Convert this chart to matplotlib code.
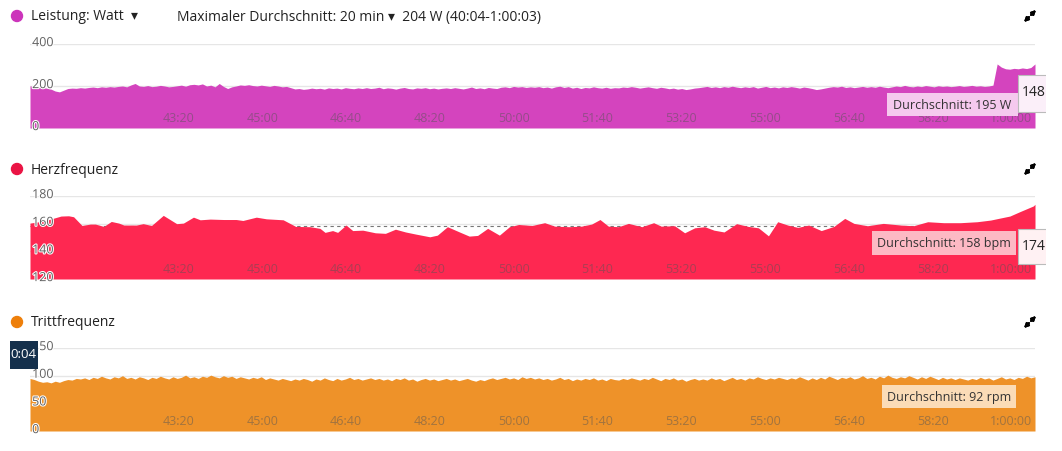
import numpy as np
import matplotlib
matplotlib.use("Agg")
import matplotlib.pyplot as plt
from matplotlib.patches import Rectangle, Ellipse
import matplotlib.patheffects as pe

W, H = 1062, 452
plt.rcParams['font.family'] = ['Open Sans', 'DejaVu Sans']

# Zeitachse (Sekunden), sichtbarer Bereich 40:04 - 1:00:03
t_start, t_end = 2404, 3603
tick_secs = [2600, 2700, 2800, 2900, 3000, 3100, 3200, 3300, 3400, 3500, 3600]
tick_labels = ["43:20", "45:00", "46:40", "48:20", "50:00", "51:40",
               "53:20", "55:00", "56:40", "58:20", "1:00:00"]

# Leistung (W), 5-s Raster
power_w = [
    200, 198, 196, 192, 190, 185, 176, 172, 180, 188, 190, 189, 192, 190, 193, 195, 192, 196, 194, 197,
    195, 198, 200, 196, 205, 212, 200, 198, 202, 197, 199, 203, 200, 196, 198, 201, 204, 199, 206, 208,
    205, 210, 200, 204, 196, 212, 198, 188, 196, 200, 205, 203, 206, 202, 200, 204, 201, 198, 203, 200,
    196, 198, 192, 186, 188, 184, 186, 190, 187, 189, 185, 191, 188, 190, 186, 192, 189, 187, 191, 188,
    192, 188, 190, 194, 187, 191, 189, 185, 190, 193, 188, 186, 191, 189, 192, 187, 190, 186, 189, 191,
    188, 192, 189, 186, 190, 195, 188, 191, 187, 193, 190, 188, 194, 196, 192, 198, 195, 197, 193, 196,
    194, 197, 192, 195, 190, 196, 199, 193, 197, 190, 194, 188, 193, 191, 196, 192, 190, 194, 189, 192,
    191, 195, 193, 197, 194, 190, 193, 196, 192, 189, 194, 191, 187, 190, 185, 188, 183, 186, 190, 192,
    195, 198, 193, 196, 192, 197, 194, 199, 195, 192, 196, 193, 197, 190, 194, 198, 192, 195, 191, 196,
    193, 197, 194, 190, 195, 192, 188, 183, 186, 190, 194, 197, 195, 199, 193, 196, 192, 195, 198, 194,
    197, 194, 199, 195, 192, 196, 200, 197, 203, 198, 196, 200, 197, 202, 199, 196, 201, 198, 200, 197,
    199, 202, 198, 200, 203, 199, 201, 198, 200, 204, 305, 290, 282, 280, 284, 282, 286, 283, 288, 305,
]

# Herzfrequenz (bpm)
hr_t = [2404, 2421, 2441, 2450, 2456, 2466, 2476, 2482, 2492, 2501, 2510, 2516, 2531, 2539, 2549,
        2563, 2579, 2587, 2599, 2607, 2619, 2635, 2650, 2658, 2674, 2686, 2706, 2721, 2738, 2750,
        2756, 2765, 2771, 2781, 2789, 2801, 2816, 2828, 2840, 2852, 2864, 2881, 2890, 2902, 2916,
        2928, 2938, 2950, 2964, 2976, 2987, 3003, 3018, 3030, 3047, 3062, 3074, 3084, 3094, 3106,
        3118, 3134, 3148, 3157, 3173, 3185, 3197, 3209, 3220, 3232, 3247, 3261, 3273, 3285, 3296,
        3308, 3320, 3333, 3348, 3363, 3376, 3387, 3403, 3422, 3443, 3458, 3475, 3494, 3514, 3534,
        3550, 3561, 3573, 3585, 3601, 3603]
hr_bpm = [160.4, 162, 165.5, 165.7, 165, 158.7, 159.7, 159.7, 158, 161.6, 160.4, 159, 159, 160, 158.7,
          166, 160, 160.4, 164.7, 162.8, 163.3, 163, 163, 162.3, 164.7, 163.5, 162.8, 158, 157.8, 156.6,
          153.7, 155, 153.7, 159, 155, 155.3, 153.4, 153, 156, 154, 152.5, 150.5, 151.7, 157.8, 154.1,
          151, 151.5, 156.6, 151.7, 157.8, 159.4, 158.7, 160.7, 158.2, 157.8, 158.2, 159.7, 163, 158.2, 157.8,
          160.2, 157.8, 160.7, 158.2, 158.5, 153.4, 157, 157.8, 155.3, 154, 160, 158, 157, 151.2, 161.4,
          159, 157.3, 159, 155, 158, 163.8, 160.2, 158.5, 160.2, 159, 158.5, 161.4, 160.7, 160.7, 161.4,
          162.6, 164, 165.5, 168.7, 172.8, 174]

# Trittfrequenz (rpm), 5-s Raster
cad_rpm = [
    95, 93, 90, 88, 89, 87, 90, 88, 91, 93, 92, 95, 94, 96, 93, 97, 95, 99, 96, 94,
    98, 96, 100, 95, 97, 94, 98, 96, 93, 97, 95, 99, 96, 94, 98, 95, 97, 101, 96, 98,
    95, 99, 97, 101, 98, 96, 100, 97, 99, 95, 98, 96, 94, 97, 95, 98, 93, 96, 94, 92,
    95, 93, 91, 94, 92, 95, 93, 90, 94, 92, 96, 93, 91, 95, 92, 94, 97, 93, 95, 92,
    94, 96, 93, 95, 92, 94, 91, 95, 93, 96, 92, 94, 90, 93, 95, 92, 94, 91, 93, 95,
    92, 94, 91, 93, 95, 92, 90, 93, 91, 94, 96, 93, 95, 97, 94, 96, 93, 98, 95, 97,
    94, 96, 93, 95, 92, 94, 97, 93, 95, 91, 94, 92, 95, 93, 96, 92, 94, 91, 95, 93,
    92, 95, 93, 96, 94, 92, 95, 93, 97, 94, 91, 95, 93, 96, 92, 94, 90, 93, 95, 92,
    94, 92, 96, 93, 95, 91, 94, 97, 93, 95, 92, 96, 94, 98, 95, 93, 96, 94, 97, 95,
    93, 96, 94, 98, 95, 92, 96, 93, 97, 94, 99, 96, 93, 97, 95, 98, 94, 96, 100, 95,
    97, 94, 99, 96, 101, 97, 95, 98, 96, 100, 97, 94, 98, 95, 99, 96, 93, 97, 94, 96,
    93, 96, 94, 92, 95, 93, 97, 94, 96, 92, 95, 98, 94, 96, 93, 97, 95, 99, 96, 98,
]

power_t = np.linspace(t_start, t_end, len(power_w))
cad_t = np.linspace(t_start, t_end, len(cad_rpm))


def fx(x):
    return x / W


def fy(y):
    return 1 - y / H


fig = plt.figure(figsize=(W / 100, H / 100), dpi=100)


def panel(top, bottom, ylo, yhi, yticks):
    ax = fig.add_axes([fx(30), fy(bottom), (1035 - 30) / W, (bottom - top) / H])
    ax.set_xlim(t_start, t_end)
    ax.set_ylim(ylo, yhi)
    for s in ax.spines.values():
        s.set_visible(False)
    ax.set_xticks([])
    ax.set_yticks([])
    for v in yticks:
        ax.axhline(v, color='#e6e6e6', lw=1, zorder=0)
        ax.annotate(str(v), xy=(0, v), xycoords=('axes fraction', 'data'),
                    xytext=(1.5, 1), textcoords='offset points', ha='left', va='center',
                    fontsize=9, color='#606060', zorder=5,
                    path_effects=[pe.withStroke(linewidth=1.5, foreground='white')])
    for ts, lab in zip(tick_secs, tick_labels):
        ax.annotate(lab, xy=(ts, ylo), xycoords='data', xytext=(0, 7.5),
                    textcoords='offset points', ha='right', va='center',
                    fontsize=9, color='#555555', alpha=0.5, zorder=4)
    return ax


def arrow(x0, y0, x1, y1):
    fig.add_artist(plt.annotate('', xy=(fx(x1), fy(y1)), xytext=(fx(x0), fy(y0)),
                                xycoords='figure fraction', textcoords='figure fraction',
                                arrowprops=dict(arrowstyle='-|>', color='black', lw=1.4,
                                                mutation_scale=6, shrinkA=0, shrinkB=0)))


def header(y, label, dot_color):
    fig.add_artist(Ellipse((fx(17), fy(y)), 11 / W, 11 / H, transform=fig.transFigure,
                           color=dot_color))
    fig.text(fx(31), fy(y), label, fontsize=10, color='#222222', va='center', ha='left')
    # Vollbild-Symbol
    arrow(1031, y - 1, 1036, y - 6)
    arrow(1029, y + 1, 1024, y + 6)


def box(x0, y0, x1, y1, fc, ec='none', z=3):
    fig.add_artist(Rectangle((fx(x0), fy(y1)), (x1 - x0) / W, (y1 - y0) / H,
                             transform=fig.transFigure, facecolor=fc, edgecolor=ec,
                             lw=0.8, zorder=z))


# Leistung
ax1 = panel(45, 129, 0, 400, [0, 200, 400])
ax1.fill_between(power_t, 0, power_w, color='#d444be', lw=0, zorder=2)

# Herzfrequenz
ax2 = panel(197, 280, 120, 180, [120, 140, 160, 180])
ax2.fill_between(hr_t, 120, hr_bpm, color='#fe2851', lw=0, zorder=2)
ax2.axhline(158, color='#777777', lw=0.8, ls=(0, (3, 3)), zorder=1)

# Trittfrequenz
ax3 = panel(349, 432, 0, 150, [0, 50, 100, 150])
ax3.fill_between(cad_t, 0, cad_rpm, color='#ee9229', lw=0, zorder=2)

# Kopfzeilen
header(17, 'Leistung: Watt  ▾', '#cc34bb')
fig.text(fx(177), fy(17), 'Maximaler Durchschnitt: 20 min ▾  204 W (40:04-1:00:03)',
         fontsize=10, color='#222222', va='center', ha='left')
header(170, 'Herzfrequenz', '#ea1444')
header(323, 'Trittfrequenz', '#ee7f0a')

# Durchschnitt-Boxen
box(887, 94, 1018, 117, '#f5c9ee')
fig.text(fx(952), fy(105.5), 'Durchschnitt: 195 W', fontsize=9, color='#333333',
         ha='center', va='center', zorder=4)
box(872, 232, 1016, 256, '#fdb9c4')
fig.text(fx(944), fy(244), 'Durchschnitt: 158 bpm', fontsize=9, color='#333333',
         ha='center', va='center', zorder=4)
box(882, 386, 1016, 409, '#fbdcb7')
fig.text(fx(949), fy(397.5), 'Durchschnitt: 92 rpm', fontsize=9, color='#333333',
         ha='center', va='center', zorder=4)

# angeschnittene Tooltips rechts
box(1018, 76, 1060, 113, '#fbeff9', ec='#bbbbbb')
fig.text(fx(1022), fy(93), '148', fontsize=10, color='#222222', ha='left', va='center', zorder=4)
box(1018, 230, 1060, 265, '#fff1f3', ec='#bbbbbb')
fig.text(fx(1022), fy(247), '174', fontsize=10, color='#222222', ha='left', va='center', zorder=4)
box(1046, 60, 1062, 280, 'white', z=5)

# dunkle Zeitmarke links
box(10, 342, 38, 370, '#14304c')
fig.text(fx(10), fy(355), '0:04', fontsize=9.5, color='white', ha='left', va='center', zorder=4)

fig.savefig('out.png', dpi=100)
